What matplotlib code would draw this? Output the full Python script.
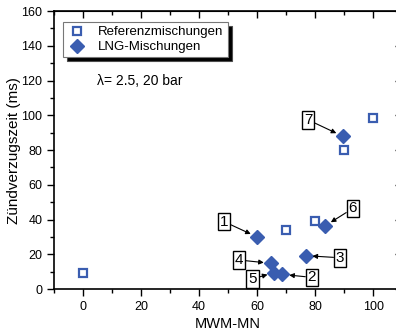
import matplotlib
matplotlib.use("Agg")
from matplotlib import pyplot as plt
from matplotlib.ticker import MultipleLocator

plt.rcParams["font.family"] = ["Liberation Sans", "DejaVu Sans"]

# Referenzmischungen
ref_mn = [0, 70, 80, 90, 100]
ref_t = [9.5, 34, 39, 80, 98.5]

# LNG-Mischungen (numbered 1..7)
lng_mn = [60, 68.7, 76.7, 64.7, 65.9, 83.4, 89.5]
lng_t = [30, 8.4, 19.2, 14.8, 9.4, 36.3, 88]
lng_labels = ["1", "2", "3", "4", "5", "6", "7"]
label_pos = [(48.6, 38.8), (78.9, 6.7), (88.6, 18), (53.8, 16.7),
             (58.4, 5.8), (93, 46.4), (77.7, 97.3)]

blue = "#3a5db0"

fig = plt.figure(figsize=(3.96, 3.32), dpi=100)
ax = fig.add_axes([0.1364, 0.1295, 0.879, 0.837])

ax.plot(ref_mn, ref_t, ls="none", marker="s", ms=6, mfc="white", mec=blue, mew=1.6,
        label="Referenzmischungen", zorder=3)
ax.plot(lng_mn, lng_t, ls="none", marker="D", ms=7.5, mfc=blue, mec=blue,
        label="LNG-Mischungen", zorder=3)

for lab, x, y, pos in zip(lng_labels, lng_mn, lng_t, label_pos):
    ax.annotate(lab, xy=(x, y), xytext=pos, ha="center", va="center", fontsize=11,
                bbox=dict(boxstyle="square,pad=0.12", fc="white", ec="black", lw=1),
                arrowprops=dict(arrowstyle="-|>", lw=0.8, color="black",
                                shrinkA=0, shrinkB=5, mutation_scale=7),
                zorder=4)

ax.text(4.8, 120, "λ= 2.5, 20 bar", fontsize=10, va="center")

ax.set_xlim(-10, 110)
ax.set_ylim(0, 160)
ax.xaxis.set_major_locator(MultipleLocator(20))
ax.xaxis.set_minor_locator(MultipleLocator(10))
ax.yaxis.set_major_locator(MultipleLocator(20))
ax.yaxis.set_minor_locator(MultipleLocator(10))
ax.tick_params(which="both", direction="out", labelsize=9, width=1)
ax.tick_params(which="major", length=5)
ax.tick_params(which="minor", length=3)

# mirrored ticks on top and right, pointing inward
sec_x = ax.secondary_xaxis("top")
sec_x.xaxis.set_major_locator(MultipleLocator(20))
sec_x.xaxis.set_minor_locator(MultipleLocator(10))
sec_x.tick_params(which="both", direction="in", labeltop=False, width=1)
sec_x.tick_params(which="major", length=5)
sec_x.tick_params(which="minor", length=3)
sec_y = ax.secondary_yaxis("right")
sec_y.yaxis.set_major_locator(MultipleLocator(20))
sec_y.yaxis.set_minor_locator(MultipleLocator(10))
sec_y.tick_params(which="both", direction="in", labelright=False, width=1)
sec_y.tick_params(which="major", length=5)
sec_y.tick_params(which="minor", length=3)

for s in ax.spines.values():
    s.set_linewidth(1.2)

ax.set_xlabel("MWM-MN", fontsize=10.5, labelpad=3)
ax.set_ylabel("Zündverzugszeit (ms)", fontsize=11, labelpad=0)

leg = ax.legend(loc="upper left", bbox_to_anchor=(0.025, 0.96), fontsize=9.5,
                frameon=True, fancybox=False, edgecolor="#777777", framealpha=1,
                shadow={"ox": 3, "oy": -3, "fc": "black", "alpha": 1},
                handletextpad=0.8, borderpad=0.3, labelspacing=0.2,
                handlelength=1.6, borderaxespad=0)
leg.get_frame().set_linewidth(0.8)

fig.savefig("out.png", dpi=100)
